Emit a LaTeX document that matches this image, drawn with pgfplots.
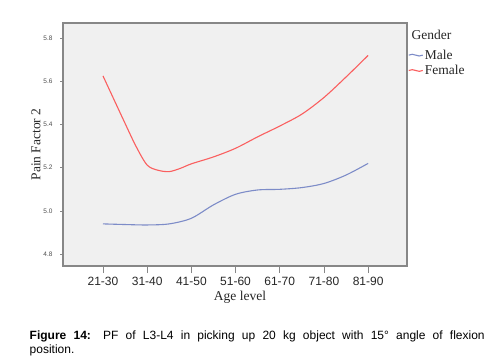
\documentclass[border=0pt]{standalone}
\usepackage{pgfplots}
\pgfplotsset{compat=1.18}
\usepackage{fontspec}
\setmainfont{Liberation Serif}
\newfontfamily\arial{Liberation Sans}
\definecolor{redline}{RGB}{250,95,95}
\definecolor{blueline}{RGB}{125,140,200}
\definecolor{framec}{RGB}{135,135,135}
\definecolor{bgc}{RGB}{240,240,240}
\begin{document}
\begin{tikzpicture}
\path[use as bounding box] (0,0) rectangle (494pt,359pt);
\begin{axis}[
  at={(63pt,93pt)}, anchor=south west,
  scale only axis, width=344pt, height=243pt,
  xmin=-0.905, xmax=6.88, ymin=4.745, ymax=5.87,
  axis background/.style={fill=bgc},
  axis line style={draw=framec, line width=1.2pt},
  xtick={0,1,2,3,4,5,6},
  xticklabels={21-30,31-40,41-50,51-60,61-70,71-80,81-90},
  ytick={4.8,5.0,5.2,5.4,5.6,5.8},
  /pgf/number format/fixed, /pgf/number format/fixed zerofill, /pgf/number format/precision=1,
  /pgf/number format/assume math mode=true,
  tick style={draw=framec, line width=0.8pt},
  major tick length=7pt,
  y tick style={/pgfplots/major tick length=3pt},
  tick align=outside,
  xtick pos=bottom, ytick pos=left,
  x tick label style={font=\arial\fontsize{12}{12}\selectfont, text=black!85, yshift=-1pt},
  y tick label style={font=\arial\fontsize{6.5}{6.5}\selectfont, text=black!70},
  xlabel={Age level},
  ylabel={Pain Factor 2},
  xlabel style={font=\fontsize{13.5}{13.5}\selectfont, text=black!85, xshift=5pt, yshift=2pt},
  ylabel style={font=\fontsize{13.5}{13.5}\selectfont, text=black!85, yshift=-4pt},
  legend style={at={(1,1)}, anchor=north west, xshift=0pt, yshift=-24pt, draw=none, fill=none,
    font=\fontsize{13.5}{13.5}\selectfont, text=black!85, row sep=1.5pt, inner sep=1pt,
    nodes={inner sep=1.5pt}},
  legend cell align=left,
  legend image code/.code={\draw[#1] (0pt,0pt) .. controls (5pt,3pt) and (9pt,-3pt) .. (14pt,0pt);},
]
\addplot[blueline, line width=1.1pt, smooth, tension=0.5] coordinates {
(0,4.940) (0.5,4.937) (1,4.935) (1.5,4.940) (2,4.966) (2.5,5.028) (3,5.077)
(3.5,5.097) (4,5.100) (4.5,5.108) (5,5.127) (5.5,5.166) (6,5.22)};
\addlegendentry{Male}
\addplot[redline, line width=1.1pt, smooth, tension=0.5] coordinates {
(0,5.625) (0.5,5.405) (0.75,5.298) (1,5.212) (1.25,5.188) (1.5,5.182) (1.75,5.197) (2,5.218) (2.5,5.25) (3,5.29)
(3.5,5.343) (4,5.393) (4.5,5.448) (5,5.525) (5.5,5.62) (6,5.72)};
\addlegendentry{Female}
\end{axis}
\node[anchor=west, inner sep=0pt, font=\fontsize{13.5}{13.5}\selectfont, text=black!85] at (411.5pt,324pt) {Gender};
\node[anchor=base west, inner sep=0pt, font=\arial\fontsize{12}{14}\selectfont] at (29.5pt,19.5pt)
  {\makebox[455pt][s]{\textbf{Figure 14:} PF of L3-L4 in picking up 20 kg object with 15° angle of flexion}};
\node[anchor=base west, inner sep=0pt, font=\arial\fontsize{12}{14}\selectfont] at (29.5pt,5.5pt) {position.};
\end{tikzpicture}
\end{document}
